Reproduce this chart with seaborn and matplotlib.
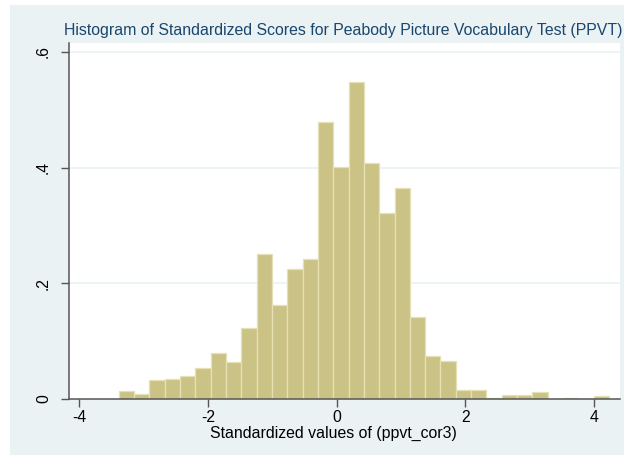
import numpy as np
import pandas as pd
import matplotlib
matplotlib.use("Agg")
import matplotlib.pyplot as plt
import seaborn as sns
from matplotlib.patches import Rectangle

# ---- data ----
bin_start = -3.385
bin_width = 0.238
heights = [0.014, 0.008, 0.032, 0.034, 0.040, 0.054, 0.080, 0.064,
           0.122, 0.251, 0.162, 0.224, 0.242, 0.479, 0.401, 0.548,
           0.408, 0.322, 0.365, 0.142, 0.075, 0.066, 0.016, 0.016,
           0.002, 0.007, 0.007, 0.012, 0.0, 0.002, 0.0, 0.005]
x_ticks = [-4, -2, 0, 2, 4]
x_ticklabels = ["-4", "-2", "0", "2", "4"]
y_ticks = [0, 0.2, 0.4, 0.6]
y_ticklabels = ["0", ".2", ".4", ".6"]
title = "Histogram of Standardized Scores for Peabody Picture Vocabulary Test (PPVT)"
xlabel = "Standardized values of (ppvt_cor3)"

edges = [float(v) for v in bin_start + bin_width * np.arange(len(heights) + 1)]
centers = [(a + b) / 2 for a, b in zip(edges[:-1], edges[1:])]
df = pd.DataFrame({"x": centers, "w": heights})

sns.set_style("white")
plt.rcParams["font.family"] = ["Liberation Sans", "DejaVu Sans"]

BG = "#EAF2F3"
fig = plt.figure(figsize=(6.24, 4.57), dpi=100)
fig.patch.set_facecolor("white")
fig.patches.append(Rectangle((10 / 624, 2 / 457), 1, 450 / 457,
                             transform=fig.transFigure, facecolor=BG,
                             edgecolor="none", zorder=-10))

L, R, B, T = 69 / 624, 620 / 624, 1 - 399 / 457, 1 - 43 / 457
ax = fig.add_axes([L, B, R - L, T - B])
ax.set_facecolor("white")

sns.histplot(data=df, x="x", weights="w", bins=edges, stat="count",
             color="#CBC386", edgecolor="#E6E1B4", linewidth=0.9,
             alpha=1, ax=ax)

ax.set_xlim(-4.155, 4.40)
ax.set_ylim(0, 0.6155)
ax.set_xticks(x_ticks)
ax.set_xticklabels(x_ticklabels)
ax.set_yticks(y_ticks)
ax.set_yticklabels(y_ticklabels, rotation=90, va="center")
for y in y_ticks[1:]:
    ax.axhline(y, color=BG, linewidth=1.2, zorder=0)

for s in ["top", "right"]:
    ax.spines[s].set_visible(False)
for s in ["left", "bottom"]:
    ax.spines[s].set_color("#555555")
    ax.spines[s].set_linewidth(1.1)
ax.tick_params(axis="both", direction="out", length=6, width=1.0,
               color="#555555", labelsize=11.3, labelcolor="black",
               left=True, bottom=True)
ax.tick_params(axis="x", pad=2)
ax.tick_params(axis="y", pad=7)

ax.set_ylabel("")
ax.set_xlabel(xlabel, fontsize=11.4, color="black")
ax.xaxis.set_label_coords((333 - 69) / 551, -0.075)

fig.text(64 / 624, 1 - 30 / 457, title, fontsize=11.4, color="#1A476F",
         ha="left", va="center")

fig.savefig("out.png", dpi=100)
